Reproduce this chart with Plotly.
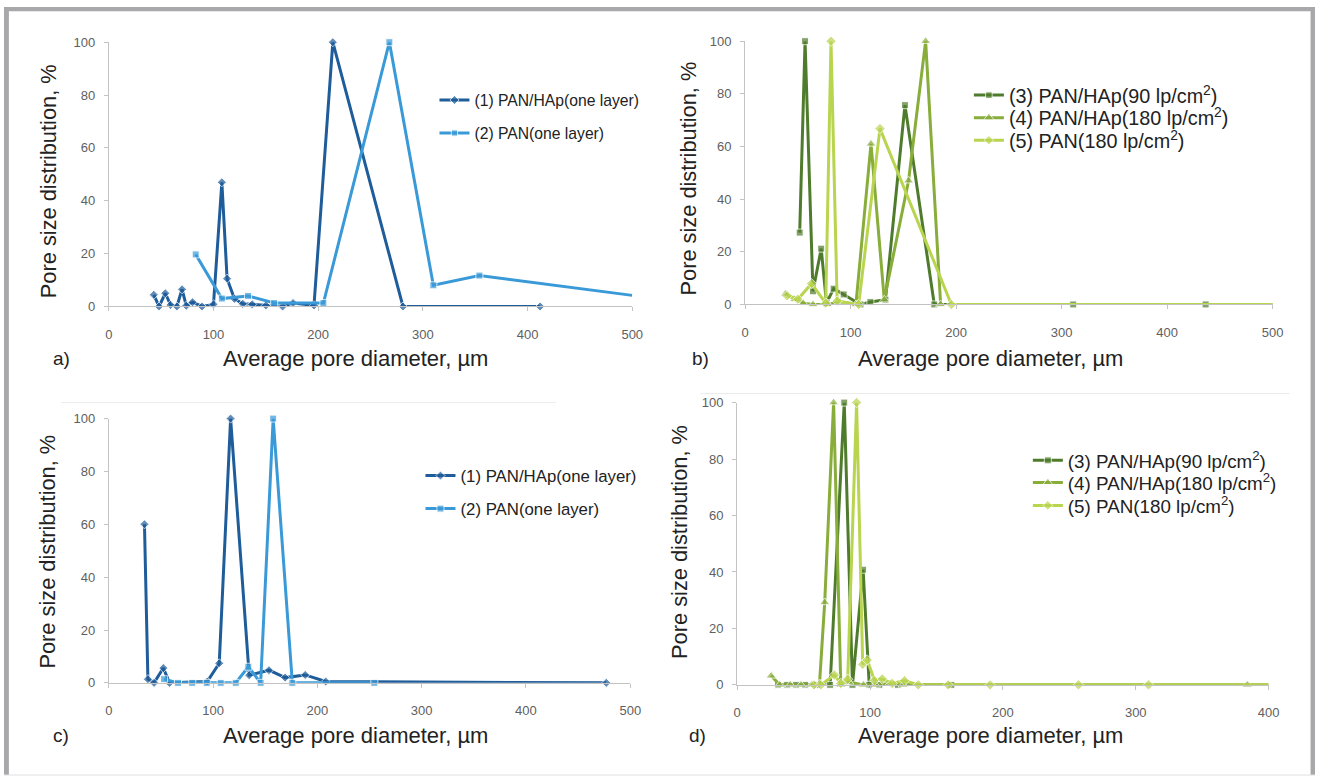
import plotly.graph_objects as go

W, H = 1326, 783

# ---------------- data ----------------
# panel a
a1_x = [43, 48, 54, 59, 65, 70, 74, 80, 89, 100, 108, 113, 120, 128, 137, 150, 166, 176, 196, 214, 281, 412]
a1_y = [4.4, 0, 5, 0.6, 0, 6.5, 0.3, 1.6, 0, 0.8, 47, 10.5, 2.9, 1, 0.8, 0.4, 0, 1.3, 0.4, 100, 0, 0]
a2_x = [83, 108, 133, 158, 205, 268, 310, 354, 500]
a2_y = [19.7, 3, 4, 1.3, 1.3, 100, 8, 11.7, 4.2]

# panel b
b3_x = [51.7, 56.8, 64.3, 72.1, 77.1, 83.9, 93.4, 109.3, 118.7, 133, 151.5, 179.3, 311, 436.5, 500]
b3_y = [27.3, 100, 5, 21.2, 0.5, 6, 3.8, 0, 0.9, 1.8, 75.7, 0, 0, 0, 0]
b4_x = [38.2, 47, 55, 64.3, 78, 90, 105, 119.3, 131.9, 154.9, 171.1, 185.3]
b4_y = [4, 2, 0.5, 0, 0, 1, 0, 61, 1.8, 47, 100, 0]
b5_x = [39.8, 50, 62.9, 76.4, 81.4, 87.2, 107.6, 127.8, 195.5, 500]
b5_y = [3.3, 2, 7.9, 0.5, 100, 1.3, 0, 66.8, 0, 0]

# panel c
c1_x = [34.2, 37.5, 43.4, 52.3, 58.2, 94.4, 105.9, 116.8, 134.6, 153.6, 169.1, 188.3, 208, 477]
c1_y = [60, 1.4, 0, 5.6, 0, 0.5, 7.4, 100, 2.9, 4.8, 2, 3, 0.5, 0]
c2_x = [53, 66.4, 80, 93.9, 107.3, 121.7, 133.8, 145.6, 157.6, 176, 254.6]
c2_y = [1.4, 0, 0, 0, 0, 0, 6.1, 0, 100, 0, 0]

# panel d
d3_x = [30.8, 37.6, 44.4, 51.2, 60, 70, 80.6, 86.8, 94.8, 99.4, 107, 120.9, 161.2]
d3_y = [0, 0, 0, 0, 0, 0, 100, 0, 40.8, 0, 0, 0, 0]
d4_x = [25.6, 32, 40, 48, 56, 62, 65.9, 72.6, 78, 84, 95, 104, 115, 125, 384, 400]
d4_y = [3.2, 0, 0, 0, 0, 0.5, 29.2, 100, 0, 1, 0, 0, 0.5, 0, 0, 0]
d5_x = [57.8, 63, 73.2, 78, 83.2, 89.9, 94.5, 97.9, 103.3, 109.2, 116.7, 126, 136.3, 158.8, 190.4, 256.9, 309.6, 400]
d5_y = [0, 0, 3.5, 0.5, 2, 100, 7.3, 8.8, 1.6, 2.1, 0.5, 1.5, 0, 0, 0, 0, 0, 0]

name1 = "(1) PAN/HAp(one layer)"
name2 = "(2) PAN(one layer)"
name3 = "(3) PAN/HAp(90 lp/cm<sup>2</sup>)"
name4 = "(4) PAN/HAp(180 lp/cm<sup>2</sup>)"
name5 = "(5) PAN(180 lp/cm<sup>2</sup>)"

x_title = "Average pore diameter, µm"
y_title = "Pore size distribution, %"
panel_letters = ["a)", "b)", "c)", "d)"]

# ---------------- style ----------------
C1, C2 = "#1f5c9a", "#3a9ad8"
C3, C4, C5 = "#4f7c2c", "#88ad3a", "#b9d44f"
FONT = "Liberation Sans, Arial, sans-serif"
TICKFONT = dict(family="Liberation Sans Narrow, Liberation Sans, Arial", size=13, color="#606060")


def px(x):
    v = (x - 3.1) / 0.9897
    return min(max(v, 0), W) / W


def py(y):
    v = (y - 6.85) / 0.9798
    return 1 - min(max(v, 0), H) / H


def msizes(n, size, hide_last=False):
    s = [size] * n
    if hide_last:
        s[-1] = 0
    return s


fig = go.Figure()
legend_boxes = {}
leg_counter = [0]


def add(x, y, name, color, symbol, size, xa, ya, text_x, row_y, leg_font, hide_last=False):
    leg_counter[0] += 1
    key = "legend" if leg_counter[0] == 1 else "legend%d" % leg_counter[0]
    legend_boxes[key] = dict(
        x=px(text_x - 40), y=py(row_y), xanchor="left", yanchor="middle",
        bgcolor="rgba(0,0,0,0)", font=dict(size=leg_font, color="#222"), itemclick=False,
        itemdoubleclick=False,
    )
    fig.add_trace(go.Scatter(
        x=x, y=y, name=name, mode="lines+markers",
        line=dict(color=color, width=3),
        marker=dict(symbol=symbol, size=msizes(len(x), size, hide_last), color=color),
        xaxis=xa, yaxis=ya, legend=key, cliponaxis=False,
    ))


add(a1_x, a1_y, name1, C1, "diamond", 7, "x", "y", 474, 100, 15.7)
add(a2_x, a2_y, name2, C2, "square", 7, "x", "y", 474, 133, 15.7, hide_last=True)
add(b3_x, b3_y, name3, C3, "square", 7, "x2", "y2", 1009, 95, 19.8, hide_last=True)
add(b4_x, b4_y, name4, C4, "triangle-up", 9, "x2", "y2", 1009, 117.5, 19.8)
add(b5_x, b5_y, name5, C5, "diamond", 8, "x2", "y2", 1009, 140, 19.8, hide_last=True)
add(c1_x, c1_y, name1, C1, "diamond", 7, "x3", "y3", 460, 475, 16.8)
add(c2_x, c2_y, name2, C2, "square", 7, "x3", "y3", 460, 508, 16.8)
add(d3_x, d3_y, name3, C3, "square", 7, "x4", "y4", 1068, 460, 18.8)
add(d4_x, d4_y, name4, C4, "triangle-up", 9, "x4", "y4", 1068, 482, 18.8, hide_last=True)
add(d5_x, d5_y, name5, C5, "diamond", 8, "x4", "y4", 1068, 505, 18.8, hide_last=True)

# panel geometry in target pixels: (x0, x1, ytop, ybottom, xmax, ytitle_x, ytitle_y, letter_x)
panels = [
    (108, 632, 42, 306, 500, 47, 181, 50),
    (745, 1273, 41, 304, 500, 688, 178, 690),
    (108, 630, 418, 682, 500, 47, 551, 50),
    (737, 1269, 402, 684, 400, 680, 541, 687),
]

axis_common = dict(
    showgrid=False, zeroline=False, showline=True, linecolor="#c3c3c3", linewidth=1,
    ticks="outside", ticklen=4, tickcolor="#c3c3c3", tickfont=TICKFONT,
)

layout = dict(
    width=W, height=H, margin=dict(l=0, r=0, t=0, b=0),
    paper_bgcolor="white", plot_bgcolor="white", font=dict(family=FONT, color="#222"),
    showlegend=True,
)
layout.update(legend_boxes)

annotations = []
for i, (x0, x1, yt, yb, xmax, ytx, yty, lx) in enumerate(panels):
    sfx = "" if i == 0 else str(i + 1)
    layout["xaxis" + sfx] = dict(
        axis_common, domain=[px(x0), px(x1)], range=[0, xmax], dtick=100,
        anchor="y" + sfx, ticklabelstandoff=12,
    )
    layout["yaxis" + sfx] = dict(
        axis_common, domain=[py(yb), py(yt)], range=[0, 100], dtick=20,
        anchor="x" + sfx, ticklabelstandoff=6,
    )
    ty = 358 if i < 2 else 735
    cx = 355 if i % 2 == 0 else 991
    annotations.append(dict(text=x_title, x=px(cx), y=py(ty), xref="paper", yref="paper",
                            showarrow=False, font=dict(size=22, color="#222"),
                            xanchor="center", yanchor="middle"))
    annotations.append(dict(text=panel_letters[i], x=px(lx), y=py(ty), xref="paper", yref="paper",
                            showarrow=False, font=dict(size=19, color="#222"),
                            xanchor="left", yanchor="middle"))
    annotations.append(dict(text=y_title, x=px(ytx), y=py(yty), xref="paper", yref="paper",
                            showarrow=False, textangle=-90, font=dict(size=21.8, color="#222"),
                            xanchor="center", yanchor="middle"))

shapes = [
    # outer grey frame
    dict(type="rect", xref="paper", yref="paper", x0=0, x1=px(1323), y0=py(11), y1=1,
         fillcolor="#a8a8ab", line_width=0),
    dict(type="rect", xref="paper", yref="paper", x0=0, x1=px(8), y0=py(781), y1=1,
         fillcolor="#a8a8ab", line_width=0),
    dict(type="rect", xref="paper", yref="paper", x0=px(1311), x1=1, y0=py(781), y1=1,
         fillcolor="#a8a8ab", line_width=0),
    dict(type="line", xref="paper", yref="paper", x0=0, x1=1, y0=py(780), y1=py(780),
         line=dict(color="#e0e0e0", width=1)),
    # faint separator lines above lower panels
    dict(type="line", xref="paper", yref="paper", x0=px(60), x1=px(556), y0=py(402), y1=py(402),
         line=dict(color="#ececec", width=1)),
    dict(type="line", xref="paper", yref="paper", x0=px(700), x1=px(1290), y0=py(393), y1=py(393),
         line=dict(color="#ececec", width=1)),
]
layout["annotations"] = annotations
layout["shapes"] = shapes

fig.update_layout(**layout)
post = (
    "document.documentElement.style.margin='0px';document.documentElement.style.padding='0px';"
    "document.documentElement.style.overflow='hidden';"
    "document.body.style.margin='0px';document.body.style.padding='0px';document.body.style.overflow='hidden';"
    "var gd=document.getElementsByClassName('plotly-graph-div')[0];"
    "gd.style.position='fixed';gd.style.left='0px';gd.style.top='0px';"
)
fig.write_html("out.html", config={"displayModeBar": False}, post_script=post)
